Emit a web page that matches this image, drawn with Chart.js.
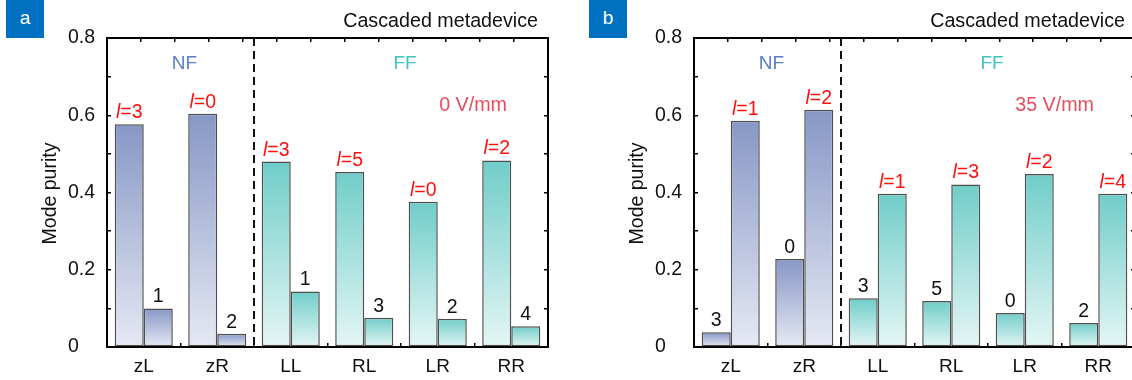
<!DOCTYPE html>
<html>
<head>
<meta charset="utf-8">
<script src="https://cdn.jsdelivr.net/npm/chart.js@4.4.1/dist/chart.umd.min.js"></script>
<style>
  html, body { margin: 0; padding: 0; background: #fff; overflow: hidden; width: 1132px; height: 380px; }
  .panel { position: absolute; top: 0; height: 380px; }
  #panelA { left: 0; width: 552px; }
  #panelB { left: 590px; width: 550px; }
  .tag { position: absolute; top: 0; width: 38px; height: 38px; background: #0070c0; color: #fff;
         font: 19px 'Liberation Sans', Arial, sans-serif; text-align: center; line-height: 36px; }
</style>
</head>
<body>
<div class="panel" id="panelA"><canvas id="chartA"></canvas></div>
<div class="panel" id="panelB"><canvas id="chartB"></canvas></div>
<div class="tag" style="left:6px">a</div>
<div class="tag" style="left:589px">b</div>

<script>
// 数据
const categories = ['zL', 'zR', 'LL', 'RL', 'LR', 'RR'];

// (a) 0 V/mm
const purityA1 = [0.577, 0.604, 0.480, 0.453, 0.376, 0.483];
const purityA2 = [0.100, 0.034, 0.144, 0.076, 0.073, 0.054];
const modeA1 = ['3', '0', '3', '5', '0', '2'];
const modeA2 = ['1', '2', '1', '3', '2', '4'];

// (b) 35 V/mm
const purityB1 = [0.038, 0.228, 0.126, 0.119, 0.088, 0.062];
const purityB2 = [0.586, 0.614, 0.397, 0.421, 0.448, 0.397];
const modeB1 = ['3', '0', '3', '5', '0', '2'];
const modeB2 = ['1', '2', '1', '3', '2', '4'];

const yTicks = [0, 0.2, 0.4, 0.6, 0.8];

const FONT = "'Liberation Sans', Arial, sans-serif";

// 每根柱子自上而下的渐变
function barFill(ctx) {
  const nf = ctx.dataIndex < 2;
  const top = nf ? '#8797c5' : '#70cdc9';
  const bottom = nf ? '#e6e9f4' : '#e4f6f5';
  const chart = ctx.chart;
  const y = chart.scales.y;
  if (ctx.type !== 'data' || !y || ctx.raw == null) return top;
  const y0 = y.getPixelForValue(ctx.raw);
  const y1 = y.getPixelForValue(0);
  if (!isFinite(y0) || !isFinite(y1) || y0 === y1) return top;
  const g = chart.ctx.createLinearGradient(0, y0, 0, y1);
  g.addColorStop(0, top);
  g.addColorStop(1, bottom);
  return g;
}

// 文字标注、虚线分隔
const overlay = {
  id: 'overlay',
  afterDatasetsDraw(chart, args, opts) {
    const { ctx, chartArea: a, scales: { x } } = chart;
    ctx.save();

    // 分隔虚线
    const xd = (x.getPixelForValue(1) + x.getPixelForValue(2)) / 2;
    ctx.strokeStyle = '#111';
    ctx.lineWidth = 2;
    ctx.setLineDash([8, 5]);
    ctx.beginPath();
    ctx.moveTo(xd, a.top);
    ctx.lineTo(xd, a.bottom);
    ctx.stroke();
    ctx.setLineDash([]);

    // 柱顶标签
    ctx.textBaseline = 'alphabetic';
    chart.data.datasets.forEach((ds, di) => {
      const meta = chart.getDatasetMeta(di);
      const texts = opts.labels[di];
      meta.data.forEach((bar, i) => {
        const by = bar.y - 6;
        if (di === opts.red) {
          ctx.fillStyle = '#ff1010';
          ctx.font = 'italic 19.5px ' + FONT;
          const w1 = ctx.measureText('l').width;
          ctx.font = '19.5px ' + FONT;
          const rest = '=' + texts[i];
          const w2 = ctx.measureText(rest).width;
          const sx = bar.x - (w1 + w2) / 2;
          ctx.textAlign = 'left';
          ctx.font = 'italic 19.5px ' + FONT;
          ctx.fillText('l', sx, by);
          ctx.font = '19.5px ' + FONT;
          ctx.fillText(rest, sx + w1, by);
        } else {
          ctx.fillStyle = '#111';
          ctx.font = '19.5px ' + FONT;
          ctx.textAlign = 'center';
          ctx.fillText(texts[i], bar.x, by);
        }
      });
    });

    ctx.textBaseline = 'middle';
    ctx.font = '19px ' + FONT;

    ctx.fillStyle = '#5b7dcb';
    ctx.textAlign = 'center';
    ctx.fillText('NF', a.left + 77.5, a.top + 26);

    ctx.fillStyle = '#3fc6bd';
    ctx.fillText('FF', a.left + 298, a.top + 26);

    ctx.font = '19.7px ' + FONT;
    ctx.fillStyle = '#e84c5e';
    ctx.textAlign = 'right';
    ctx.fillText(opts.voltage, a.left + 400, a.top + 68);

    ctx.fillStyle = '#111';
    ctx.fillText('Cascaded metadevice', a.left + 431, a.top - 16);

    // y 轴标题
    ctx.translate(a.left - 56.5, (a.top + a.bottom) / 2 + 1);
    ctx.rotate(-Math.PI / 2);
    ctx.textAlign = 'center';
    ctx.font = '19.5px ' + FONT;
    ctx.fillText('Mode purity', 0, 0);

    ctx.restore();
  }
};

function axisBorder() {
  return { display: true, color: '#000', width: 2 };
}

function makeChart(id, d1, d2, l1, l2, red, voltage, padLeft, padRight) {
  const ds = (data) => ({
    data: data,
    backgroundColor: barFill,
    borderColor: '#4f4f4f',
    borderWidth: 1.5,
    borderSkipped: false,
    categoryPercentage: 0.79,
    barPercentage: 1.0
  });

  return new Chart(document.getElementById(id), {
    type: 'bar',
    data: { labels: categories, datasets: [ds(d1), ds(d2)] },
    options: {
      responsive: true,
      maintainAspectRatio: false,
      animation: false,
      layout: { padding: { left: padLeft, right: padRight, top: 0, bottom: 0 } },
      plugins: {
        legend: { display: false },
        tooltip: { enabled: false },
        overlay: { labels: [l1, l2], red: red, voltage: voltage }
      },
      scales: {
        x: {
          position: 'bottom',
          border: axisBorder(),
          grid: { drawOnChartArea: false, tickLength: -4, color: '#000', lineWidth: 1.5 },
          ticks: { color: '#111', font: { family: FONT, size: 19 }, padding: 12, maxRotation: 0 },
          afterFit: s => { s.height = 33; }
        },
        xTop: {
          type: 'linear',
          axis: 'x',
          position: 'top',
          min: -0.5,
          max: 5.5,
          border: axisBorder(),
          grid: { drawOnChartArea: false, tickLength: -4, color: '#000', lineWidth: 1.5 },
          ticks: { display: false, stepSize: 0.5 },
          afterFit: s => { s.height = 38; }
        },
        y: {
          position: 'left',
          min: 0,
          max: 0.8,
          border: axisBorder(),
          grid: { drawOnChartArea: false, tickLength: -4, color: '#000', lineWidth: 1.5 },
          ticks: {
            stepSize: 0.1,
            crossAlign: 'far',
            color: '#111',
            font: { family: FONT, size: 19.5 },
            callback: v => {
              const t = yTicks.find(k => Math.abs(k - v) < 1e-6);
              if (t === undefined) return '';
              return t === 0 ? '0' : t.toFixed(1);
            }
          },
          afterFit: s => { s.width = 39; }
        },
        y2: {
          position: 'right',
          min: 0,
          max: 0.8,
          border: axisBorder(),
          grid: { drawOnChartArea: false, tickLength: -4, color: '#000', lineWidth: 1.5 },
          ticks: { display: false, stepSize: 0.1 },
          afterFit: s => { s.width = 0; }
        }
      }
    },
    plugins: [overlay]
  });
}

makeChart('chartA', purityA1, purityA2, modeA1, modeA2, 0, '0 V/mm', 68, 4);
makeChart('chartB', purityB1, purityB2, modeB1, modeB2, 1, '35 V/mm', 65, 5);
</script>
</body>
</html>
